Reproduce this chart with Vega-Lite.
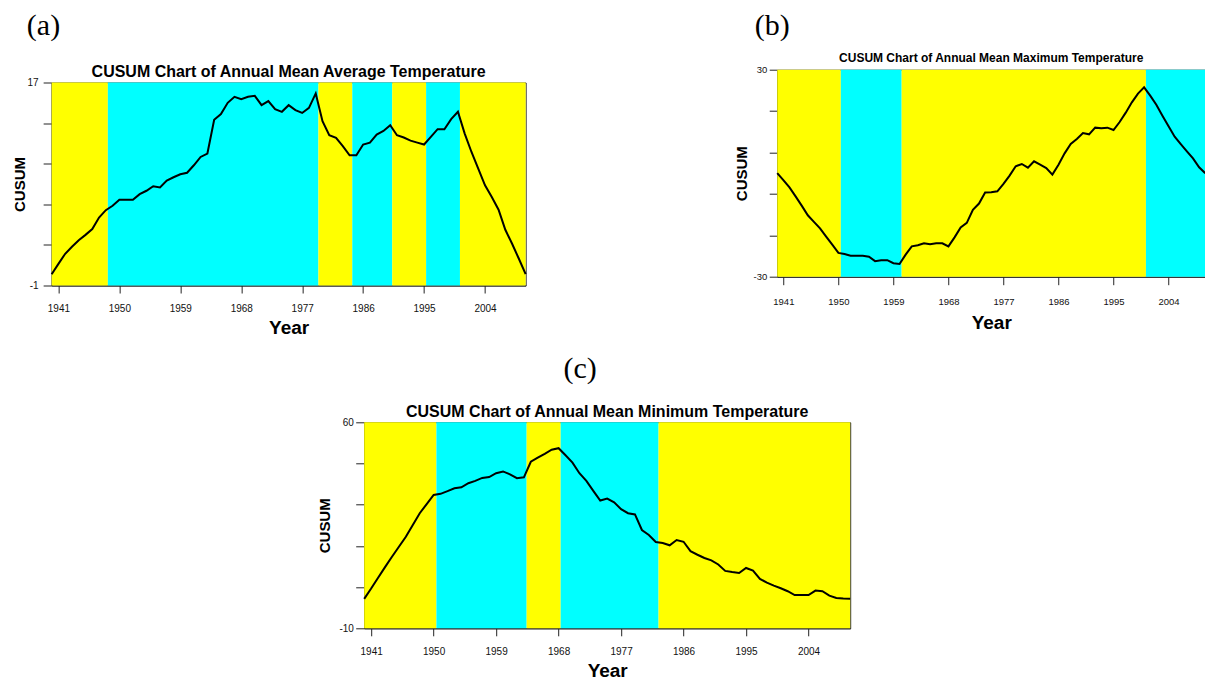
{
  "$schema": "https://vega.github.io/schema/vega-lite/v6.json",
  "background": "white",
  "padding": {"left": 11.2, "top": 11, "right": 0, "bottom": 0},
  "center": true,
  "spacing": 15.7,
  "config": {
    "view": {"stroke": null},
    "font": "Liberation Sans",
    "axis": {"labelFont": "Liberation Sans", "titleFont": "Liberation Sans", "labelColor": "#111", "titleColor": "#000", "domainColor": "#222", "tickColor": "#222", "grid": false, "labelFontSize": 10, "titleFontWeight": "bold", "domainWidth": 1, "tickWidth": 1},
    "axisX": {"titleFontSize": 19},
    "axisY": {"titleFontSize": 15},
    "title": {"font": "Liberation Sans", "fontWeight": "bold", "color": "#000", "anchor": "middle", "frame": "group"}
  },
  "datasets": {
    "avg": [
      {"year":1940,"cusum":0.0},{"year":1941,"cusum":0.92},{"year":1942,"cusum":1.81},{"year":1943,"cusum":2.43},{"year":1944,"cusum":3.02},{"year":1945,"cusum":3.49},{"year":1946,"cusum":4.0},{"year":1947,"cusum":5.03},{"year":1948,"cusum":5.68},{"year":1949,"cusum":6.07},
      {"year":1950,"cusum":6.6},{"year":1951,"cusum":6.6},{"year":1952,"cusum":6.6},{"year":1953,"cusum":7.1},{"year":1954,"cusum":7.4},{"year":1955,"cusum":7.8},{"year":1956,"cusum":7.7},{"year":1957,"cusum":8.3},{"year":1958,"cusum":8.6},{"year":1959,"cusum":8.86},
      {"year":1960,"cusum":9.0},{"year":1961,"cusum":9.66},{"year":1962,"cusum":10.4},{"year":1963,"cusum":10.7},{"year":1964,"cusum":13.7},{"year":1965,"cusum":14.2},{"year":1966,"cusum":15.2},{"year":1967,"cusum":15.73},{"year":1968,"cusum":15.52},{"year":1969,"cusum":15.73},
      {"year":1970,"cusum":15.82},{"year":1971,"cusum":15.0},{"year":1972,"cusum":15.35},{"year":1973,"cusum":14.63},{"year":1974,"cusum":14.4},{"year":1975,"cusum":14.99},{"year":1976,"cusum":14.55},{"year":1977,"cusum":14.3},{"year":1978,"cusum":14.75},{"year":1979,"cusum":16.03},
      {"year":1980,"cusum":13.57},{"year":1981,"cusum":12.33},{"year":1982,"cusum":12.09},{"year":1983,"cusum":11.35},{"year":1984,"cusum":10.55},{"year":1985,"cusum":10.55},{"year":1986,"cusum":11.5},{"year":1987,"cusum":11.67},{"year":1988,"cusum":12.38},{"year":1989,"cusum":12.7},
      {"year":1990,"cusum":13.21},{"year":1991,"cusum":12.32},{"year":1992,"cusum":12.12},{"year":1993,"cusum":11.85},{"year":1994,"cusum":11.67},{"year":1995,"cusum":11.5},{"year":1996,"cusum":12.18},{"year":1997,"cusum":12.86},{"year":1998,"cusum":12.86},{"year":1999,"cusum":13.75},
      {"year":2000,"cusum":14.4},{"year":2001,"cusum":12.47},{"year":2002,"cusum":10.84},{"year":2003,"cusum":9.36},{"year":2004,"cusum":7.88},{"year":2005,"cusum":6.84},{"year":2006,"cusum":5.72},{"year":2007,"cusum":3.94},{"year":2008,"cusum":2.7},{"year":2009,"cusum":1.37},
      {"year":2010,"cusum":0.0}
    ],
    "max": [
      {"year":1940,"cusum":0},{"year":1941,"cusum":-2.0},{"year":1942,"cusum":-4.1},{"year":1943,"cusum":-6.7},{"year":1944,"cusum":-9.4},{"year":1945,"cusum":-12.2},{"year":1946,"cusum":-14.1},{"year":1947,"cusum":-16.0},{"year":1948,"cusum":-18.4},{"year":1949,"cusum":-20.7},
      {"year":1950,"cusum":-23.1},{"year":1951,"cusum":-23.4},{"year":1952,"cusum":-23.9},{"year":1953,"cusum":-23.9},{"year":1954,"cusum":-23.9},{"year":1955,"cusum":-24.2},{"year":1956,"cusum":-25.5},{"year":1957,"cusum":-25.2},{"year":1958,"cusum":-25.2},{"year":1959,"cusum":-26.1},
      {"year":1960,"cusum":-26.3},{"year":1961,"cusum":-23.6},{"year":1962,"cusum":-21.2},{"year":1963,"cusum":-20.9},{"year":1964,"cusum":-20.3},{"year":1965,"cusum":-20.6},{"year":1966,"cusum":-20.3},{"year":1967,"cusum":-20.3},{"year":1968,"cusum":-21.2},{"year":1969,"cusum":-18.6},
      {"year":1970,"cusum":-15.7},{"year":1971,"cusum":-14.4},{"year":1972,"cusum":-10.6},{"year":1973,"cusum":-8.8},{"year":1974,"cusum":-5.6},{"year":1975,"cusum":-5.55},{"year":1976,"cusum":-5.26},{"year":1977,"cusum":-3.1},{"year":1978,"cusum":-0.7},{"year":1979,"cusum":2.0},
      {"year":1980,"cusum":2.67},{"year":1981,"cusum":1.6},{"year":1982,"cusum":3.44},{"year":1983,"cusum":2.47},{"year":1984,"cusum":1.5},{"year":1985,"cusum":-0.4},{"year":1986,"cusum":2.47},{"year":1987,"cusum":5.76},{"year":1988,"cusum":8.46},{"year":1989,"cusum":9.91},
      {"year":1990,"cusum":11.65},{"year":1991,"cusum":11.27},{"year":1992,"cusum":13.2},{"year":1993,"cusum":13.0},{"year":1994,"cusum":13.2},{"year":1995,"cusum":12.52},{"year":1996,"cusum":14.84},{"year":1997,"cusum":17.55},{"year":1998,"cusum":20.54},{"year":1999,"cusum":23.05},
      {"year":2000,"cusum":24.89},{"year":2001,"cusum":22.47},{"year":2002,"cusum":19.86},{"year":2003,"cusum":16.68},{"year":2004,"cusum":13.59},{"year":2005,"cusum":10.59},{"year":2006,"cusum":8.46},{"year":2007,"cusum":6.34},{"year":2008,"cusum":4.31},{"year":2009,"cusum":1.7},
      {"year":2010,"cusum":0}
    ],
    "min": [
      {"year":1940,"cusum":0},{"year":1941,"cusum":3.5},{"year":1942,"cusum":7.2},{"year":1943,"cusum":10.8},{"year":1944,"cusum":14.3},{"year":1945,"cusum":17.7},{"year":1946,"cusum":21.1},{"year":1947,"cusum":25.1},{"year":1948,"cusum":29.1},{"year":1949,"cusum":32.2},
      {"year":1950,"cusum":35.3},{"year":1951,"cusum":35.7},{"year":1952,"cusum":36.6},{"year":1953,"cusum":37.6},{"year":1954,"cusum":37.9},{"year":1955,"cusum":39.3},{"year":1956,"cusum":40.1},{"year":1957,"cusum":41.1},{"year":1958,"cusum":41.4},{"year":1959,"cusum":42.7},
      {"year":1960,"cusum":43.3},{"year":1961,"cusum":42.3},{"year":1962,"cusum":41.0},{"year":1963,"cusum":41.3},{"year":1964,"cusum":46.6},{"year":1965,"cusum":48.0},{"year":1966,"cusum":49.3},{"year":1967,"cusum":50.7},{"year":1968,"cusum":51.2},{"year":1969,"cusum":48.8},
      {"year":1970,"cusum":46.3},{"year":1971,"cusum":42.7},{"year":1972,"cusum":40.1},{"year":1973,"cusum":36.7},{"year":1974,"cusum":33.4},{"year":1975,"cusum":34.1},{"year":1976,"cusum":32.8},{"year":1977,"cusum":30.5},{"year":1978,"cusum":29.1},{"year":1979,"cusum":28.7},
      {"year":1980,"cusum":23.4},{"year":1981,"cusum":21.7},{"year":1982,"cusum":19.3},{"year":1983,"cusum":19.0},{"year":1984,"cusum":18.2},{"year":1985,"cusum":20.0},{"year":1986,"cusum":19.4},{"year":1987,"cusum":16.2},{"year":1988,"cusum":15.0},{"year":1989,"cusum":13.9},
      {"year":1990,"cusum":13.1},{"year":1991,"cusum":11.7},{"year":1992,"cusum":9.5},{"year":1993,"cusum":9.1},{"year":1994,"cusum":8.8},{"year":1995,"cusum":10.5},{"year":1996,"cusum":9.6},{"year":1997,"cusum":6.8},{"year":1998,"cusum":5.5},{"year":1999,"cusum":4.5},
      {"year":2000,"cusum":3.6},{"year":2001,"cusum":2.6},{"year":2002,"cusum":1.3},{"year":2003,"cusum":1.3},{"year":2004,"cusum":1.3},{"year":2005,"cusum":2.8},{"year":2006,"cusum":2.6},{"year":2007,"cusum":1.1},{"year":2008,"cusum":0.3},{"year":2009,"cusum":0.1},
      {"year":2010,"cusum":0}
    ],
    "bandsAvg": [
      {"from":1940,"to":1948.3,"shade":"yellow"},{"from":1948.3,"to":1979.4,"shade":"cyan"},{"from":1979.4,"to":1984.4,"shade":"yellow"},{"from":1984.4,"to":1990.3,"shade":"cyan"},{"from":1990.3,"to":1995.3,"shade":"yellow"},{"from":1995.3,"to":2000.3,"shade":"cyan"},{"from":2000.3,"to":2010,"shade":"yellow"}
    ],
    "bandsMax": [
      {"from":1940,"to":1950.4,"shade":"yellow"},{"from":1950.4,"to":1960.35,"shade":"cyan"},{"from":1960.35,"to":2000.3,"shade":"yellow"},{"from":2000.3,"to":2010,"shade":"cyan"}
    ],
    "bandsMin": [
      {"from":1940,"to":1950.4,"shade":"yellow"},{"from":1950.4,"to":1963.4,"shade":"cyan"},{"from":1963.4,"to":1968.3,"shade":"yellow"},{"from":1968.3,"to":1982.4,"shade":"cyan"},{"from":1982.4,"to":2010,"shade":"yellow"}
    ]
  },
  "vconcat": [
    {
      "spacing": 202.6,
      "hconcat": [
        {
          "spacing": 17.5,
          "vconcat": [
            {
              "width": 17, "height": 20,
              "data": {"values": [{"panel": "(a)"}]},
              "mark": {"type": "text", "font": "Liberation Serif", "fontSize": 30, "align": "right", "baseline": "alphabetic", "color": "#000"},
              "encoding": {"text": {"field": "panel", "type": "nominal"}}
            },
            {
              "width": 474, "height": 203,
              "title": {"text": "CUSUM Chart of Annual Mean Average Temperature", "fontSize": 16, "offset": -2.2},
              "view": {"stroke": "#222", "strokeWidth": 1},
              "layer": [
                {
                  "data": {"name": "bandsAvg"},
                  "mark": {"type": "rect"},
                  "encoding": {
                    "x": {"field": "from", "type": "quantitative", "scale": {"domain": [1940, 2010], "nice": false, "zero": false}, "axis": {"title": "Year", "values": [1941, 1950, 1959, 1968, 1977, 1986, 1995, 2004], "format": "d", "tickSize": 7.5, "labelPadding": 10, "titlePadding": 5.3}},
                    "x2": {"field": "to"},
                    "y": {"datum": -1, "type": "quantitative", "scale": {"domain": [-1, 17], "nice": false, "zero": false}, "axis": {"title": "CUSUM", "values": [-1, 0.8, 2.6, 4.4, 6.2, 8, 9.8, 11.6, 13.4, 15.2, 17], "labelExpr": "datum.value == -1 ? '-1' : datum.value == 8 ? '8' : datum.value == 17 ? '17' : ''", "tickSize": 8.5, "labelPadding": 5, "titlePadding": 0}},
                    "y2": {"datum": 17},
                    "color": {"field": "shade", "type": "nominal", "scale": {"domain": ["yellow", "cyan"], "range": ["#ffff00", "#00ffff"]}, "legend": null}
                  }
                },
                {
                  "data": {"name": "avg"},
                  "mark": {"type": "line", "color": "#000", "strokeWidth": 2},
                  "encoding": {
                    "x": {"field": "year", "type": "quantitative", "title": "Year"},
                    "y": {"field": "cusum", "type": "quantitative", "title": "CUSUM"}
                  }
                }
              ]
            }
          ]
        },
        {
          "spacing": 6.7,
          "vconcat": [
            {
              "width": 25, "height": 20,
              "data": {"values": [{"panel": "(b)"}]},
              "mark": {"type": "text", "font": "Liberation Serif", "fontSize": 30, "align": "right", "baseline": "alphabetic", "color": "#000"},
              "encoding": {"text": {"field": "panel", "type": "nominal"}}
            },
            {
              "width": 428, "height": 207,
              "title": {"text": "CUSUM Chart of Annual Mean Maximum Temperature", "fontSize": 12, "offset": -0.5},
              "view": {"stroke": "#222", "strokeWidth": 1},
              "layer": [
                {
                  "data": {"name": "bandsMax"},
                  "mark": {"type": "rect"},
                  "encoding": {
                    "x": {"field": "from", "type": "quantitative", "scale": {"domain": [1940, 2010], "nice": false, "zero": false}, "axis": {"title": "Year", "values": [1941, 1950, 1959, 1968, 1977, 1986, 1995, 2004], "format": "d", "labelFontSize": 9.5, "tickSize": 8, "labelPadding": 12, "titlePadding": 7}},
                    "x2": {"field": "to"},
                    "y": {"datum": -30, "type": "quantitative", "scale": {"domain": [-30, 30], "nice": false, "zero": false}, "axis": {"title": "CUSUM", "values": [-30, -24, -18, -12, -6, 0, 6, 12, 18, 24, 30], "labelExpr": "datum.value == -30 ? '-30' : datum.value == 0 ? '0' : datum.value == 30 ? '30' : ''", "labelFontSize": 9.5, "tickSize": 8, "labelPadding": 2.5, "titlePadding": 4}},
                    "y2": {"datum": 30},
                    "color": {"field": "shade", "type": "nominal", "scale": {"domain": ["yellow", "cyan"], "range": ["#ffff00", "#00ffff"]}, "legend": null}
                  }
                },
                {
                  "data": {"name": "max"},
                  "mark": {"type": "line", "color": "#000", "strokeWidth": 2},
                  "encoding": {
                    "x": {"field": "year", "type": "quantitative", "title": "Year"},
                    "y": {"field": "cusum", "type": "quantitative", "title": "CUSUM"}
                  }
                }
              ]
            }
          ]
        }
      ]
    },
    {
      "spacing": 15.6,
      "vconcat": [
        {
          "width": 533, "height": 20,
          "data": {"values": [{"panel": "(c)"}]},
          "mark": {"type": "text", "font": "Liberation Serif", "fontSize": 30, "align": "center", "baseline": "alphabetic", "color": "#000", "dx": -50.5},
          "encoding": {"text": {"field": "panel", "type": "nominal"}}
        },
        {
          "width": 486, "height": 206,
          "title": {"text": "CUSUM Chart of Annual Mean Minimum Temperature", "fontSize": 16, "offset": -3},
          "view": {"stroke": "#222", "strokeWidth": 1},
          "layer": [
            {
              "data": {"name": "bandsMin"},
              "mark": {"type": "rect"},
              "encoding": {
                "x": {"field": "from", "type": "quantitative", "scale": {"domain": [1940, 2010], "nice": false, "zero": false}, "axis": {"title": "Year", "values": [1941, 1950, 1959, 1968, 1977, 1986, 1995, 2004], "format": "d", "tickSize": 7.5, "labelPadding": 11, "titlePadding": 4.5}},
                "x2": {"field": "to"},
                "y": {"datum": -10, "type": "quantitative", "scale": {"domain": [-10, 60], "nice": false, "zero": false}, "axis": {"title": "CUSUM", "values": [-10, -3, 4, 11, 18, 25, 32, 39, 46, 53, 60], "labelExpr": "datum.value == -10 ? '-10' : datum.value == 25 ? '25' : datum.value == 60 ? '60' : ''", "tickSize": 8.5, "labelPadding": 2.3, "titlePadding": 6.3}},
                "y2": {"datum": 60},
                "color": {"field": "shade", "type": "nominal", "scale": {"domain": ["yellow", "cyan"], "range": ["#ffff00", "#00ffff"]}, "legend": null}
              }
            },
            {
              "data": {"name": "min"},
              "mark": {"type": "line", "color": "#000", "strokeWidth": 2},
              "encoding": {
                "x": {"field": "year", "type": "quantitative", "title": "Year"},
                "y": {"field": "cusum", "type": "quantitative", "title": "CUSUM"}
              }
            }
          ]
        }
      ]
    }
  ]
}
